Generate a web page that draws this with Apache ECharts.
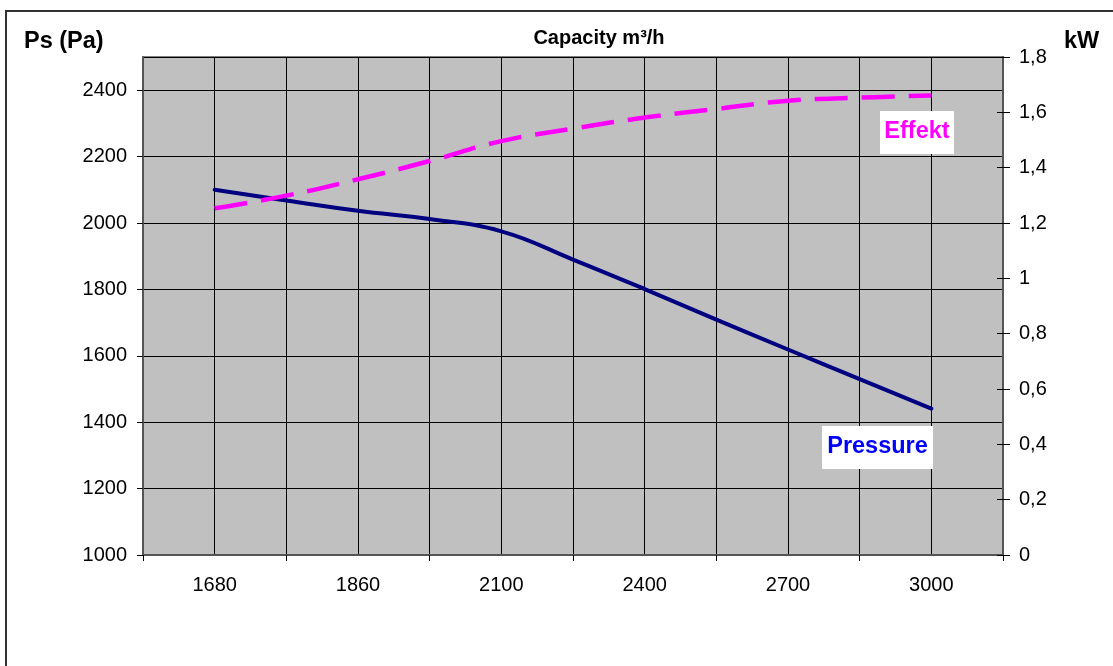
<!DOCTYPE html>
<html>
<head>
<meta charset="utf-8">
<script src="https://cdn.jsdelivr.net/npm/echarts@6/dist/echarts.min.js"></script>
<style>
html,body{margin:0;padding:0;background:#fff;}
#chart{width:1113px;height:666px;}
</style>
</head>
<body>
<div id="chart"></div>
<script>
// Capacity categories (blank = unlabelled intermediate points / padding)
var categories = ['', '1680', '', '1860', '', '2100', '', '2400', '', '2700', '', '3000', ''];
// Static pressure Ps (Pa), left axis
var pressure = [null, 2100, 2068, 2037, 2012, 1975, 1890, 1801, 1709, 1619, 1530, 1441, null];
// Power (kW), right axis
var effekt = [null, 1.253, 1.299, 1.358, 1.424, 1.496, 1.541, 1.581, 1.612, 1.642, 1.653, 1.661, null];

var FONT = 'Liberation Sans, Arial, sans-serif';
var chart = echarts.init(document.getElementById('chart'), null, {renderer: 'canvas'});

chart.setOption({
  animation: false,
  backgroundColor: '#ffffff',
  grid: {
    left: 143, right: 110, top: 57, bottom: 111,
    show: true, backgroundColor: '#C0C0C0', borderColor: '#808080', borderWidth: 2
  },
  xAxis: {
    type: 'category',
    data: categories,
    boundaryGap: false,
    axisLine: {lineStyle: {color: '#555', width: 2}},
    axisTick: {show: true, interval: 1, length: 6, lineStyle: {color: '#000'}},
    axisLabel: {interval: 0, margin: 20, fontSize: 20, color: '#000', fontFamily: FONT},
    splitLine: {show: true, interval: 0, lineStyle: {color: '#000', width: 1}}
  },
  yAxis: [
    {
      type: 'value', position: 'left', min: 1000, max: 2500, interval: 200,
      axisLine: {show: true, lineStyle: {color: '#555', width: 2}},
      axisTick: {show: true, length: 6, lineStyle: {color: '#000'}},
      axisLabel: {margin: 16, fontSize: 20, color: '#000', fontFamily: FONT, showMaxLabel: false,
        formatter: function (v) { return v === 2500 ? '' : String(v); }},
      splitLine: {show: true, lineStyle: {color: '#000', width: 1}}
    },
    {
      type: 'value', position: 'right', min: 0, max: 1.8, interval: 0.2,
      axisLine: {show: true, lineStyle: {color: '#555', width: 2}},
      axisTick: {show: true, length: 7, lineStyle: {color: '#000'}},
      axisLabel: {margin: 16, fontSize: 20, color: '#000', fontFamily: FONT,
        formatter: function (v) { return String(Math.round(v * 10) / 10).replace('.', ','); }},
      splitLine: {show: false}
    },
    {
      type: 'value', position: 'right', min: 0, max: 1.8, interval: 0.2,
      axisLine: {show: false},
      axisTick: {show: true, inside: true, length: 6, lineStyle: {color: '#000'}},
      axisLabel: {show: false},
      splitLine: {show: false}
    }
  ],
  series: [
    {
      name: 'Pressure', type: 'line', yAxisIndex: 0, data: pressure,
      smooth: 0.45, showSymbol: false, symbol: 'none',
      lineStyle: {color: '#000080', width: 4, cap: 'round'},
      z: 3
    },
    {
      name: 'Effekt', type: 'line', yAxisIndex: 1, data: effekt,
      smooth: 0.45, showSymbol: false, symbol: 'none',
      lineStyle: {color: '#FF00FF', width: 4.5, type: [33, 14]},
      z: 4
    }
  ],
  graphic: [
    {type: 'rect', z: 0, silent: true, shape: {x: 6, y: 11, width: 1200, height: 700},
      style: {fill: 'none', stroke: '#333', lineWidth: 2}},
    {type: 'text', z: 10, style: {x: 24, y: 41.5, text: 'Ps (Pa)', fill: '#000',
      font: 'bold 23.5px ' + FONT, textAlign: 'left', textVerticalAlign: 'middle'}},
    {type: 'text', z: 10, style: {x: 1064, y: 41.5, text: 'kW', fill: '#000',
      font: 'bold 23.5px ' + FONT, textAlign: 'left', textVerticalAlign: 'middle'}},
    {type: 'text', z: 10, style: {x: 599, y: 38, text: 'Capacity m³/h', fill: '#000',
      font: 'bold 20px ' + FONT, textAlign: 'center', textVerticalAlign: 'middle'}},
    {type: 'rect', z: 10, shape: {x: 880, y: 111, width: 74, height: 43}, style: {fill: '#fff'}},
    {type: 'text', z: 11, style: {x: 917, y: 132, text: 'Effekt', fill: '#FF00FF',
      font: 'bold 23.5px ' + FONT, textAlign: 'center', textVerticalAlign: 'middle'}},
    {type: 'rect', z: 10, shape: {x: 822, y: 426, width: 111, height: 43}, style: {fill: '#fff'}},
    {type: 'text', z: 11, style: {x: 877.5, y: 447, text: 'Pressure', fill: '#0000FF',
      font: 'bold 23.5px ' + FONT, textAlign: 'center', textVerticalAlign: 'middle'}}
  ]
});
</script>
</body>
</html>
